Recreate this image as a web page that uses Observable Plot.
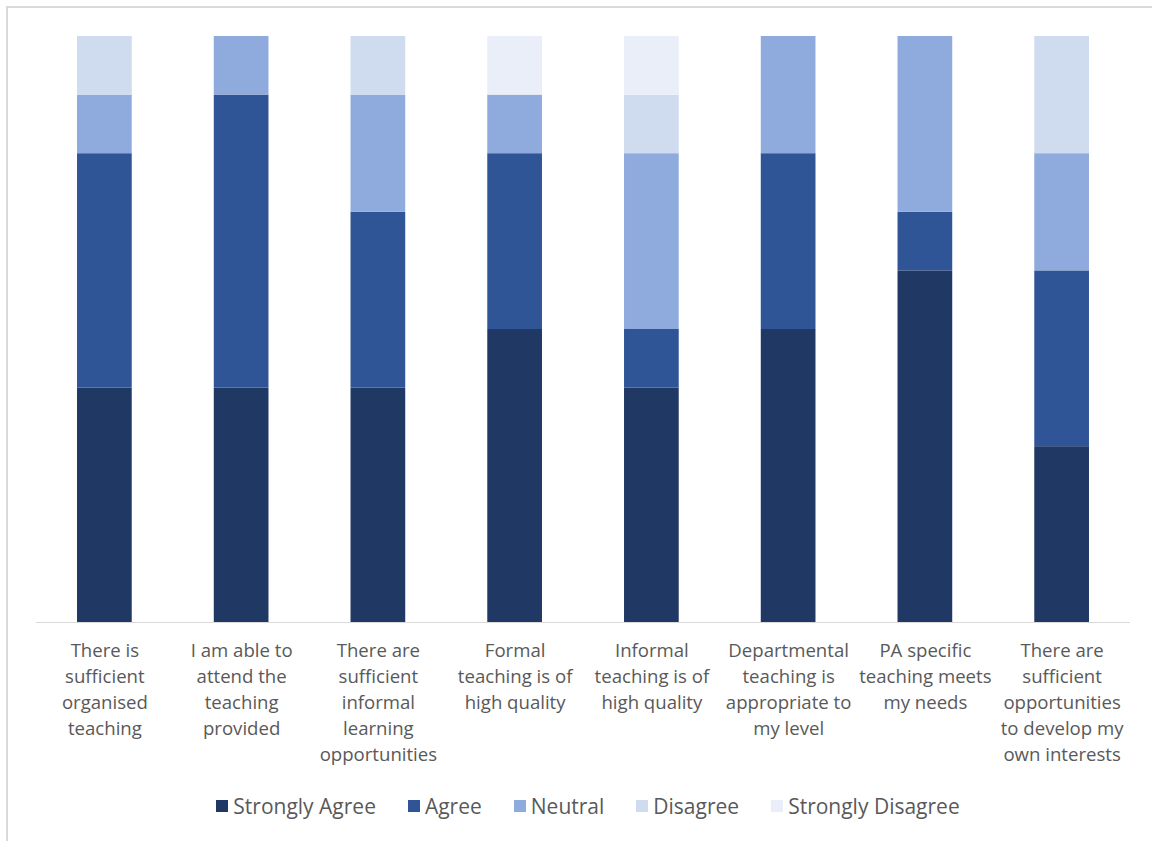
<!DOCTYPE html>
<html>
<head>
<meta charset="utf-8">
<script src="https://cdn.jsdelivr.net/npm/d3@7"></script>
<script src="https://cdn.jsdelivr.net/npm/@observablehq/plot@0.6"></script>
<style>
  html, body { margin: 0; padding: 0; background: #fff; }
  body { width: 1152px; height: 841px; position: relative; overflow: hidden; font-family: "Open Sans", sans-serif; }
  #frame { position: absolute; left: 6px; top: 6px; width: 1200px; height: 900px; border-left: 2px solid #d9d9d9; border-top: 2px solid #d9d9d9; box-sizing: border-box; }
  #chart { position: absolute; left: 0; top: 0; }
  #legend { position: absolute; left: 0; top: 792px; width: 1176px; display: flex; justify-content: center; font-size: 21px; color: #595959; line-height: 28px; }
  .item { display: flex; align-items: center; margin: 0 16px; }
  .sw { width: 12px; height: 12px; margin-right: 5px; }
</style>
</head>
<body>
<div id="frame"></div>
<div id="chart"></div>
<div id="legend"></div>
<script>
const categories = [
  "There is sufficient organised teaching",
  "I am able to attend the teaching provided",
  "There are sufficient informal learning opportunities",
  "Formal teaching is of high quality",
  "Informal teaching is of high quality",
  "Departmental teaching is appropriate to my level",
  "PA specific teaching meets my needs",
  "There are sufficient opportunities to develop my own interests"
];
const tickLabels = [
  "There is\nsufficient\norganised\nteaching",
  "I am able to\nattend the\nteaching\nprovided",
  "There are\nsufficient\ninformal\nlearning\nopportunities",
  "Formal\nteaching is of\nhigh quality",
  "Informal\nteaching is of\nhigh quality",
  "Departmental\nteaching is\nappropriate to\nmy level",
  "PA specific\nteaching meets\nmy needs",
  "There are\nsufficient\nopportunities\nto develop my\nown interests"
];
const responses = ["Strongly Agree", "Agree", "Neutral", "Disagree", "Strongly Disagree"];
const colors = ["#203864", "#2f5597", "#8faadc", "#cfdbef", "#e9eef8"];

const stronglyAgree    = [4, 4, 4, 5, 4, 5, 6, 3];
const agree            = [4, 5, 3, 3, 1, 3, 1, 3];
const neutral          = [1, 1, 2, 1, 3, 2, 3, 2];
const disagree         = [1, 0, 1, 0, 1, 0, 0, 2];
const stronglyDisagree = [0, 0, 0, 1, 1, 0, 0, 0];

const series = [stronglyAgree, agree, neutral, disagree, stronglyDisagree];
const data = [];
categories.forEach((c, i) => {
  responses.forEach((r, j) => {
    data.push({category: c, response: r, value: series[j][i]});
  });
});
const labelOf = new Map(categories.map((c, i) => [c, tickLabels[i]]));

const chart = Plot.plot({
  width: 1152,
  height: 780,
  marginLeft: 36,
  marginRight: 22,
  marginTop: 36,
  marginBottom: 158,
  style: {fontFamily: "Open Sans", fontSize: "18px", background: "transparent"},
  x: {domain: categories, paddingInner: 0.6, paddingOuter: 0.3, round: false, label: null},
  y: {domain: [0, 10], axis: null},
  color: {domain: responses, range: colors},
  marks: [
    Plot.barY(data, {x: "category", y: "value", fill: "response", order: responses}),
    Plot.ruleY([0], {stroke: "#d9d9d9", strokeWidth: 1.2}),
    Plot.axisX({
      tickSize: 0,
      tickPadding: 16,
      fontSize: 18.6,
      lineHeight: 1.4,
      fill: "#595959",
      tickFormat: d => labelOf.get(d),
      label: null
    })
  ]
});
document.getElementById("chart").appendChild(chart);

const color = chart.scale("color");
const legend = document.getElementById("legend");
responses.forEach(r => {
  const item = document.createElement("div");
  item.className = "item";
  const sw = document.createElement("span");
  sw.className = "sw";
  sw.style.background = color.apply(r);
  const t = document.createElement("span");
  t.textContent = r;
  item.appendChild(sw);
  item.appendChild(t);
  legend.appendChild(item);
});
</script>
</body>
</html>
